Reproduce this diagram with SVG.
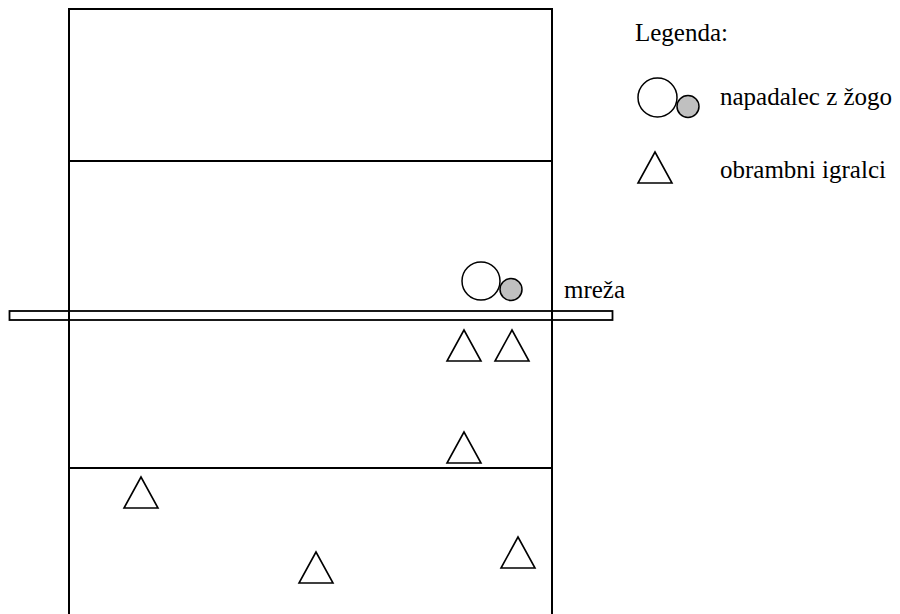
<svg xmlns="http://www.w3.org/2000/svg" width="900" height="614" viewBox="0 0 900 614">
  <style>
    .line { stroke: #000; stroke-width: 2; fill: none; }
    .net { stroke: #000; stroke-width: 1.8; fill: none; }
    .player { stroke: #000; stroke-width: 1.5; fill: #fff; }
    .ball { stroke: #000; stroke-width: 1.5; fill: #c0c0c0; }
    .def { stroke: #000; stroke-width: 1.6; fill: none; stroke-linejoin: miter; }
    .label { font-family: "Liberation Serif", "Times New Roman", serif; font-size: 25px; fill: #000; }
  </style>
  <defs>
    <polygon id="tri" points="0,0 -17,31 17,31"/>
  </defs>

  <!-- court -->
  <g id="court">
    <polyline class="line" points="69,614 69,9 552,9 552,614"/>
    <line class="line" x1="69" y1="161" x2="552" y2="161"/>
    <line class="line" x1="69" y1="468" x2="552" y2="468"/>
  </g>

  <!-- net -->
  <g id="net">
    <rect class="net" x="9.5" y="311" width="603" height="9"/>
    <text class="label" x="564" y="298">mreža</text>
  </g>

  <!-- attacker with ball -->
  <g id="attacker">
    <circle class="player" cx="481" cy="281" r="19"/>
    <circle class="ball" cx="511" cy="289.5" r="11"/>
  </g>

  <!-- defenders -->
  <g id="defenders">
    <use href="#tri" class="def" x="464" y="330"/>
    <use href="#tri" class="def" x="512" y="330"/>
    <use href="#tri" class="def" x="464" y="432"/>
    <use href="#tri" class="def" x="141" y="477"/>
    <use href="#tri" class="def" x="316" y="552"/>
    <use href="#tri" class="def" x="518" y="537"/>
  </g>

  <!-- legend -->
  <g id="legend">
    <text class="label" x="635" y="41">Legenda:</text>
    <circle class="player" cx="657.5" cy="97.5" r="19.5"/>
    <circle class="ball" cx="688" cy="106.5" r="11"/>
    <text class="label" x="720" y="105">napadalec z žogo</text>
    <use href="#tri" class="def" x="655" y="152"/>
    <text class="label" x="720" y="178">obrambni igralci</text>
  </g>
</svg>
